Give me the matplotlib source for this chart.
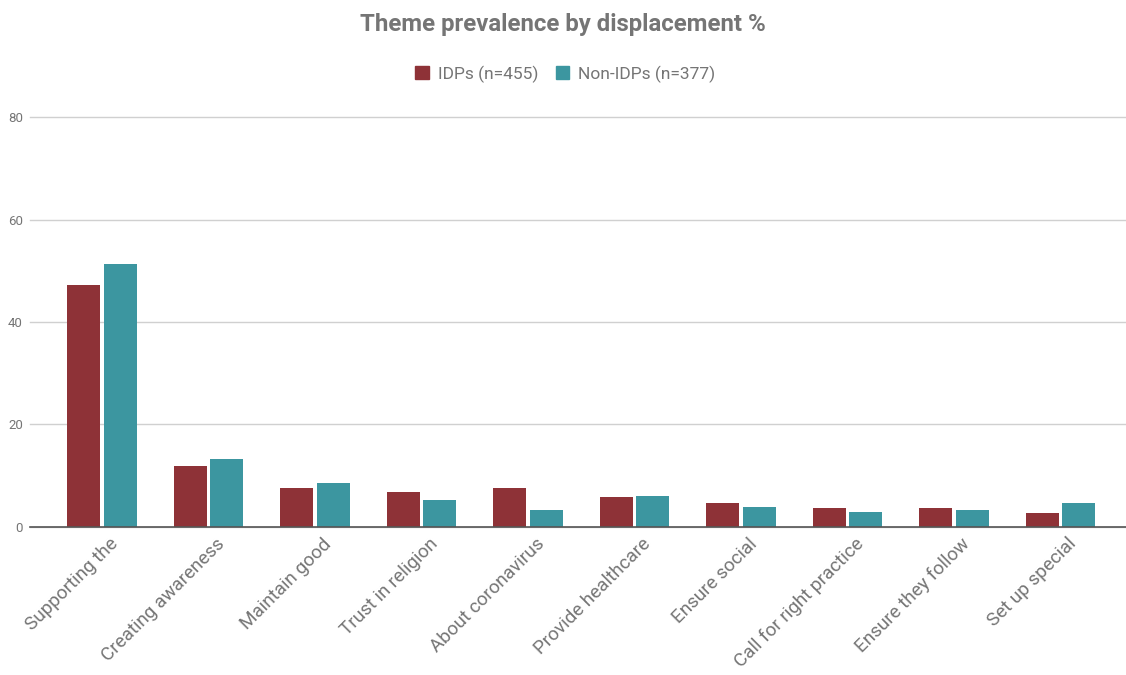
import matplotlib
matplotlib.use("Agg")
import matplotlib.pyplot as plt
import matplotlib.transforms as mtransforms
import numpy as np
from matplotlib.patches import Patch

plt.rcParams["font.family"] = ["Roboto", "DejaVu Sans"]

categories = [
    "Supporting the",
    "Creating awareness",
    "Maintain good",
    "Trust in religion",
    "About coronavirus",
    "Provide healthcare",
    "Ensure social",
    "Call for right practice",
    "Ensure they follow",
    "Set up special",
]
idps = [47.3, 11.9, 7.6, 6.8, 7.6, 5.8, 4.5, 3.7, 3.7, 2.6]
non_idps = [51.4, 13.2, 8.5, 5.2, 3.2, 6.0, 3.9, 2.8, 3.2, 4.5]
series_labels = ["IDPs (n=455)", "Non-IDPs (n=377)"]
yticks = [0, 20, 40, 60, 80]

IDP_COLOR = "#8e3237"
NON_COLOR = "#3c96a0"
TEXT_GRAY = "#757575"

fig = plt.figure(figsize=(11.26, 6.75), dpi=100)
ax = fig.add_axes([30 / 1126, 1 - 526.5 / 675, 1 - 30 / 1126, (526.5 - 117.5) / 675])

x = np.arange(len(categories))
w = 0.31
ax.bar(x - w / 2 - 0.015, idps, width=w, color=IDP_COLOR, zorder=3)
ax.bar(x + w / 2 + 0.015, non_idps, width=w, color=NON_COLOR, zorder=3)

ax.set_xlim(-0.676, 9.615)
ax.set_ylim(0, 80)
ax.set_yticks(yticks)
ax.set_yticklabels([str(t) for t in yticks], color=TEXT_GRAY, fontsize=9.5)
ax.yaxis.grid(True, color="#d0d0d0", linewidth=1, zorder=0)
for gl in ax.get_ygridlines():
    gl.set_clip_on(False)
ax.tick_params(axis="y", length=0, pad=5)
ax.tick_params(axis="x", length=0, pad=6)

ax.set_xticks(x)
ax.set_xticklabels(categories, rotation=45, ha="right", rotation_mode="anchor",
                   fontsize=13.6, color=TEXT_GRAY)
shift = mtransforms.ScaledTranslation(7 / 100, 0, fig.dpi_scale_trans)
for lbl in ax.get_xticklabels():
    lbl.set_transform(lbl.get_transform() + shift)

for side in ["top", "right", "left"]:
    ax.spines[side].set_visible(False)
ax.spines["bottom"].set_color("#555555")
ax.spines["bottom"].set_linewidth(1.2)
ax.spines["bottom"].set_zorder(4)

fig.text(0.5, 1 - 25 / 675, "Theme prevalence by displacement %", ha="center", va="center",
         fontsize=17.3, fontweight="bold", color=TEXT_GRAY)

handles = [Patch(color=IDP_COLOR), Patch(color=NON_COLOR)]
fig.legend(handles, series_labels, loc="center", bbox_to_anchor=(0.502, 1 - 74 / 675), ncol=2,
           frameon=False, fontsize=12.5, labelcolor=TEXT_GRAY, handlelength=0.8, handleheight=0.8,
           handletextpad=0.5, columnspacing=1.0)

fig.savefig("out.png", dpi=100)
